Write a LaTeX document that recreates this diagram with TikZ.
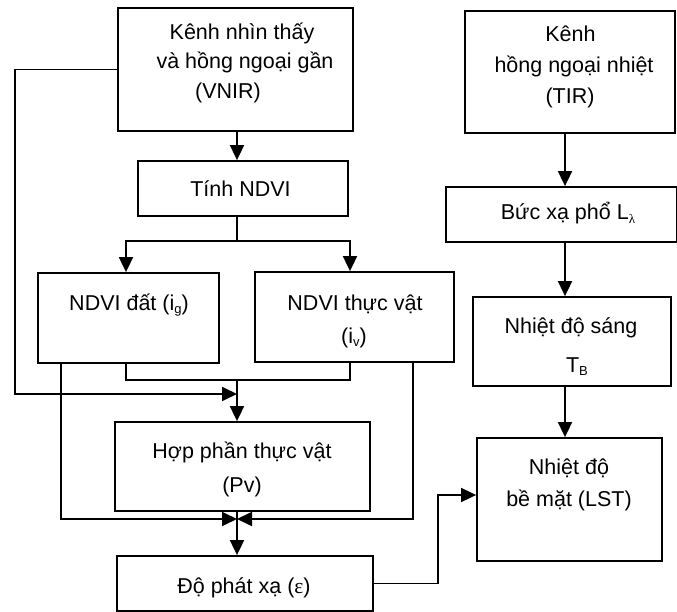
\documentclass[tikz,border=0pt]{standalone}
\usepackage{fontspec}
\setmainfont{Liberation Sans}
\newfontfamily\grkfont{Liberation Serif}
\usetikzlibrary{arrows.meta}
\newcommand{\mysub}[1]{\raisebox{-0.35ex}{\fontsize{13}{13}\selectfont #1}}
\tikzset{
  box/.style={draw, line width=1.8pt, rectangle, inner sep=0pt},
  txt/.style={anchor=base, inner sep=0pt, font=\fontsize{21.5}{25}\selectfont},
  conn/.style={line width=1.8pt},
  arr/.style={line width=1.8pt, -{Triangle[length=15pt,width=14pt]}}
}
\begin{document}
\begin{tikzpicture}[x=1pt,y=-1pt]
\path[use as bounding box, fill=white] (0,0) rectangle (677,612);

% boxes
\node[box, minimum width=235pt, minimum height=123pt] (vnir) at (235.5,69.5) {};
\node[box, minimum width=210pt, minimum height=55pt] (ndvi) at (243,188.5) {};
\node[box, minimum width=181pt, minimum height=90pt] (dat) at (128.5,318) {};
\node[box, minimum width=199pt, minimum height=90pt] (tv) at (354.5,317) {};
\node[box, minimum width=255pt, minimum height=89pt] (pv) at (242.5,466.5) {};
\node[box, minimum width=256pt, minimum height=55pt] (em) at (245,583.5) {};
\node[box, minimum width=210pt, minimum height=122pt] (tir) at (570,72) {};
\node[box, minimum width=230.5pt, minimum height=55pt] (bx) at (561.25,214.5) {};
\node[box, minimum width=198pt, minimum height=89pt] (tb) at (572,341.5) {};
\node[box, minimum width=185pt, minimum height=123pt] (lst) at (569.5,499.5) {};

% texts
\node[txt] (t1) at (242,40) {Kênh nhìn thấy};
\node[txt] (t2) at (245,69) {và hồng ngoại gần};
\node[txt] (t3) at (228,99) {(VNIR)};
\node[txt] (t4) at (240.5,197) {Tính NDVI};
\node[txt] (t5) at (129,310) {NDVI đất (i\mysub{g})};
\node[txt] (t6) at (355,310) {NDVI thực vật};
\node[txt] (t7) at (354,343) {(i\mysub{v})};
\node[txt] (t8) at (242,458) {Hợp phần thực vật};
\node[txt] (t9) at (242,492) {(Pv)};
\node[txt] (t10) at (244,593) {Độ phát xạ ({\grkfont ε})};
\node[txt] (t11) at (570.5,42) {Kênh};
\node[txt] (t12) at (574,73) {hồng ngoại nhiệt};
\node[txt] (t13) at (570,104) {(TIR)};
\node[txt] (t14) at (568,220) {Bức xạ phổ L\mysub{\grkfont λ}};
\node[txt] (t15) at (571,333) {Nhiệt độ sáng};
\node[txt] (t16) at (577,372) {T\mysub{B}};
\node[txt] (t17) at (569,474) {Nhiệt độ};
\node[txt] (t18) at (569,506) {bề mặt (LST)};

% helper coordinates
\coordinate (cx) at (237,0);
\coordinate (xa) at (126,0);
\coordinate (xb) at (350,0);
\coordinate (x61) at (61,0);
\coordinate (x413) at (413,0);
\coordinate (x438) at (438,0);
\coordinate (x565) at (565,0);
\coordinate (lft) at (15,394);
\coordinate (m1) at (237,394);
\coordinate (split) at (237,241);
\coordinate (join) at (237,380);
\coordinate (merge) at (237,519);

% left column connectors
\draw[arr] (vnir.south -| cx) -- (ndvi.north -| cx);
\draw[arr] (vnir.west) -| (lft) -- (m1);
\draw[conn] (ndvi.south -| cx) -- (split);
\draw[arr] (split) -| (dat.north -| xa);
\draw[arr] (split) -| (tv.north -| xb);
\draw[conn] (dat.south -| xa) |- (join) -| (tv.south -| xb);
\draw[arr] (join) -- (pv.north -| cx);
\draw[arr] (dat.south -| x61) |- (merge);
\draw[arr] (tv.south -| x413) |- (merge);
\draw[arr] (pv.south -| cx) -- (em.north -| cx);
\draw[arr] (em.east) -- (em.east -| x438) |- ([yshift=4.5pt]lst.west);

% right column connectors
\draw[arr] (tir.south -| x565) -- (bx.north -| x565);
\draw[arr] (bx.south -| x565) -- (tb.north -| x565);
\draw[arr] (tb.south -| x565) -- (lst.north -| x565);
\end{tikzpicture}
\end{document}
